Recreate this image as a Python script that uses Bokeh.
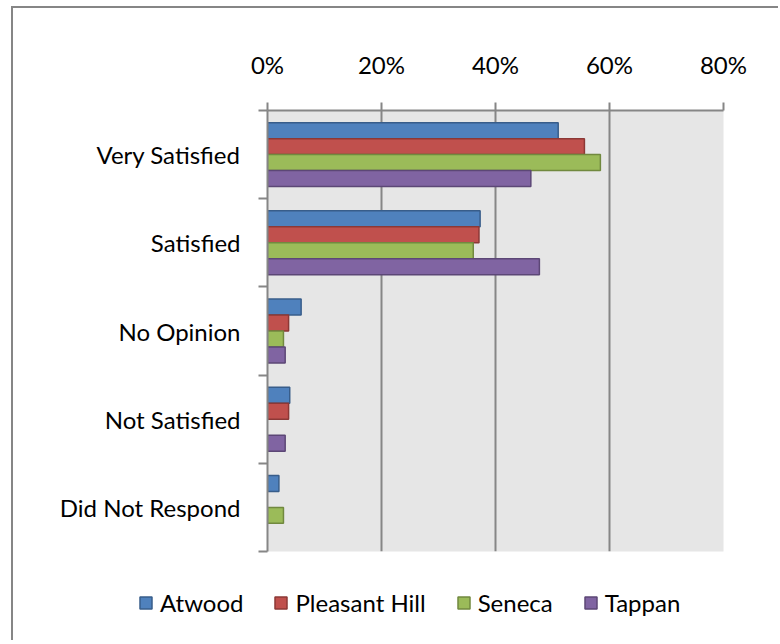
from bokeh.plotting import figure
from bokeh.layouts import column
from bokeh.models import (ColumnDataSource, Range1d, FixedTicker, NumeralTickFormatter,
                          Legend, LegendItem, CDSView, BooleanFilter)
from bokeh.transform import dodge
from bokeh.embed import file_html
from bokeh.resources import INLINE

# ---- data ----
categories = ["Very Satisfied", "Satisfied", "No Opinion", "Not Satisfied", "Did Not Respond"]
series = ["Atwood", "Pleasant Hill", "Seneca", "Tappan"]
atwood = [0.510, 0.373, 0.059, 0.039, 0.020]
pleasant_hill = [0.556, 0.371, 0.037, 0.037, 0.0]
seneca = [0.584, 0.361, 0.028, 0.0, 0.028]
tappan = [0.462, 0.477, 0.031, 0.031, 0.0]
x_ticks = [0.0, 0.2, 0.4, 0.6, 0.8]

values = [atwood, pleasant_hill, seneca, tappan]
fills = ["#4F81BD", "#C0504D", "#9BBB59", "#8064A2"]
lines = ["#385D8A", "#8C3836", "#71893F", "#5C4776"]

FONT = "Lato"
FS = "24px"
GRAY = "#868686"

p = figure(width=767, height=553, output_backend="svg", toolbar_location=None,
           x_axis_location="above",
           x_range=Range1d(0, 0.8), y_range=Range1d(len(categories), 0),
           min_border_left=254, min_border_top=102, min_border_right=57, min_border_bottom=10)
p.frame_align = False
p.styles = {"border-top": "2px solid #868686", "border-left": "2px solid #868686"}

p.background_fill_color = "#e6e6e6"
p.border_fill_color = "white"
p.outline_line_color = None

# x axis (top)
xa = p.xaxis[0]
xa.ticker = FixedTicker(ticks=x_ticks)
xa.formatter = NumeralTickFormatter(format="0%")
xa.axis_line_color = GRAY
xa.axis_line_width = 2
xa.major_tick_line_color = GRAY
xa.major_tick_line_width = 2
xa.major_tick_out = 8
xa.major_tick_in = 0
xa.minor_tick_line_color = None
xa.major_label_standoff = 24
xa.major_label_text_font = FONT
xa.major_label_text_font_size = FS
xa.major_label_text_color = "black"

# y axis (left): labels at band centres, ticks at band boundaries
centers = [i + 0.5 for i in range(len(categories))]
ya = p.yaxis[0]
ya.ticker = FixedTicker(ticks=centers, minor_ticks=list(range(len(categories) + 1)))
ya.major_label_overrides = {c: name for c, name in zip(centers, categories)}
ya.axis_line_color = GRAY
ya.axis_line_width = 2
ya.major_tick_line_color = None
ya.major_tick_out = 0
ya.major_tick_in = 0
ya.minor_tick_line_color = GRAY
ya.minor_tick_line_width = 2
ya.minor_tick_out = 9
ya.minor_tick_in = 0
ya.major_label_standoff = 18
ya.major_label_text_font = FONT
ya.major_label_text_font_size = FS
ya.major_label_text_color = "black"

p.xgrid.ticker = FixedTicker(ticks=x_ticks[1:])
p.xgrid.grid_line_color = GRAY
p.xgrid.grid_line_width = 2
p.ygrid.grid_line_color = None

h = 0.181
offsets = [-1.5 * h, -0.5 * h, 0.5 * h, 1.5 * h]
sources = []
for name, vals, off, fc, lc in zip(series, values, offsets, fills, lines):
    src = ColumnDataSource(dict(y=centers, v=vals, cat=categories))
    sources.append(src)
    view = CDSView(filter=BooleanFilter([v > 0 for v in vals]))
    p.hbar(y=dodge("y", off, range=p.y_range), left=0, right="v", height=h,
           source=src, view=view, fill_color=fc, line_color=lc, line_width=1.5)

# ---- legend strip below the chart ----
lf = figure(width=767, height=81, output_backend="svg", toolbar_location=None,
            x_axis_type=None, y_axis_type=None, x_range=Range1d(0, 0.8),
            y_range=Range1d(len(categories), 0), min_border=0)
lf.frame_align = False
lf.styles = {"border-left": "2px solid #868686"}
lf.outline_line_color = None
lf.grid.visible = False
items = []
for name, src, fc, lc in zip(series, sources, fills, lines):
    # hidden copy of each series, used only to give the legend its swatch
    r = lf.hbar(y="y", left=0, right="v", height=h, source=src,
                fill_color=fc, line_color=lc, line_width=1.5, visible=False)
    items.append(LegendItem(label=name, renderers=[r]))
legend = Legend(items=items, orientation="horizontal", location=(125, 23),
                glyph_width=15, glyph_height=15, label_standoff=7, spacing=30,
                padding=0, margin=0, border_line_color=None, background_fill_alpha=0,
                label_text_font=FONT, label_text_font_size=FS, label_text_color="black")
lf.add_layout(legend, "center")

layout = column(p, lf, spacing=0)
layout.margin = (6, 0, 0, 11)

open("out.html", "w").write(file_html(layout, INLINE))
